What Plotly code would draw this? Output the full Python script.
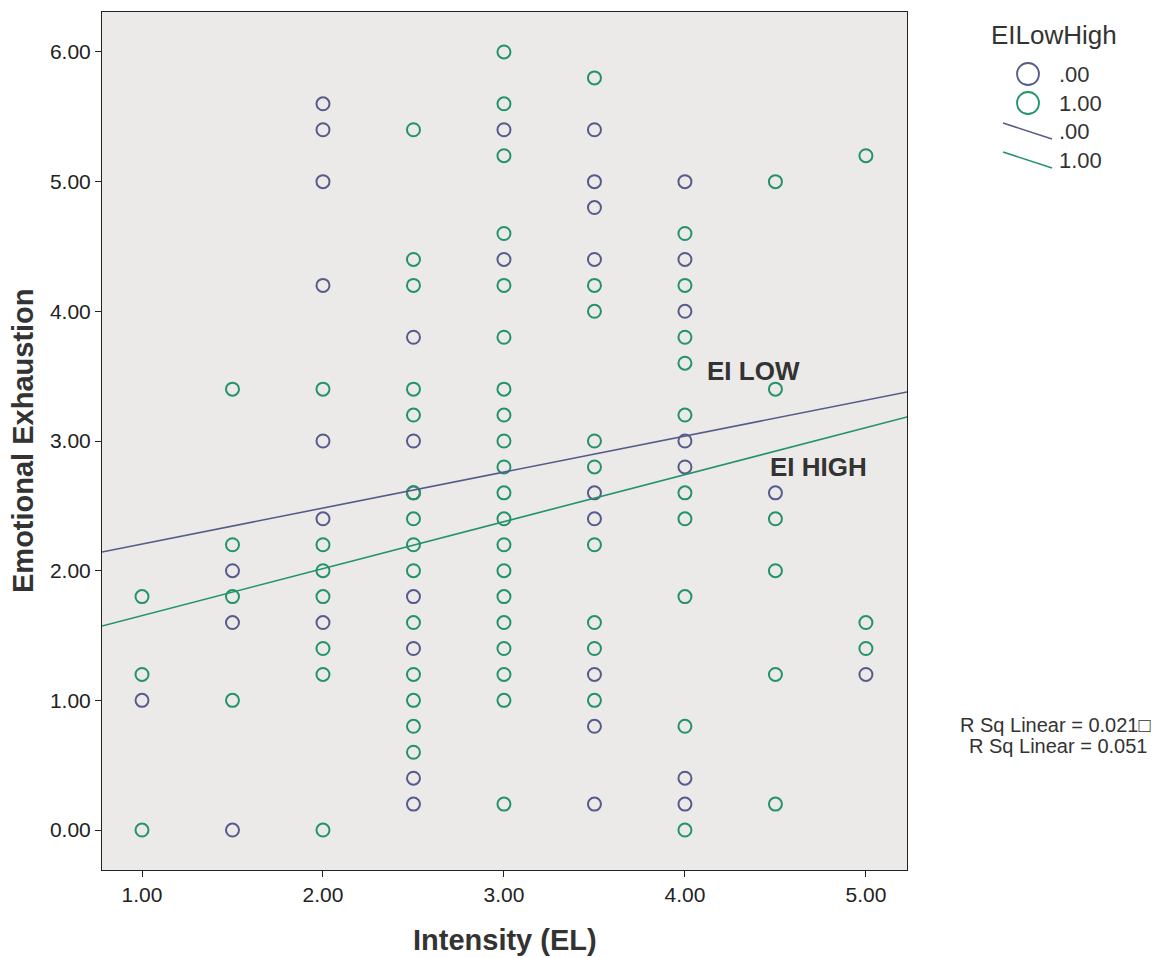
import plotly.graph_objects as go

# ---------------- data ----------------
columns = [1.0, 1.5, 2.0, 2.5, 3.0, 3.5, 4.0, 4.5, 5.0]

low_values = [
    [1.0],
    [2.0, 1.6, 0.0],
    [5.6, 5.4, 5.0, 4.2, 3.0, 2.4, 1.6],
    [3.8, 3.0, 2.6, 1.8, 1.4, 0.4, 0.2],
    [5.4, 4.4],
    [5.4, 5.0, 4.8, 4.4, 2.6, 2.4, 1.2, 0.8, 0.2],
    [5.0, 4.4, 4.0, 3.0, 2.8, 0.4, 0.2],
    [2.6],
    [1.2],
]
high_values = [
    [1.8, 1.2, 0.0],
    [3.4, 2.2, 1.8, 1.0],
    [3.4, 2.2, 2.0, 1.8, 1.4, 1.2, 0.0],
    [5.4, 4.4, 4.2, 3.4, 3.2, 2.6, 2.4, 2.2, 2.0, 1.6, 1.2, 1.0, 0.8, 0.6],
    [6.0, 5.6, 5.2, 4.6, 4.2, 3.8, 3.4, 3.2, 3.0, 2.8, 2.6, 2.4, 2.2, 2.0,
     1.8, 1.6, 1.4, 1.2, 1.0, 0.2],
    [5.8, 4.2, 4.0, 3.0, 2.8, 2.2, 1.6, 1.4, 1.0],
    [4.6, 4.2, 3.8, 3.6, 3.2, 2.6, 2.4, 1.8, 0.8, 0.0],
    [5.0, 3.4, 2.4, 2.0, 1.2, 0.2],
    [5.2, 1.6, 1.4],
]

# fit lines (intercept, slope)
low_fit = (1.928, 0.2775)
high_fit = (1.291, 0.3624)

x_range = [0.779, 5.227]
y_range = [-0.308, 6.308]
x_ticks = [1, 2, 3, 4, 5]
y_ticks = [0, 1, 2, 3, 4, 5, 6]

legend_title = "EILowHigh"
group_labels = [".00", "1.00"]
rsq_labels = ["R Sq Linear = 0.021\u25a1", "R Sq Linear = 0.051"]

# ---------------- styling ----------------
BLUE = "#575B8B"
GREEN = "#23936A"
FONT = "Liberation Sans, Arial, sans-serif"


def flatten(values):
    xs, ys = [], []
    for cx, vals in zip(columns, values):
        for v in vals:
            xs.append(cx)
            ys.append(v)
    return xs, ys


low_x, low_y = flatten(low_values)
high_x, high_y = flatten(high_values)

fig = go.Figure()

for xs, ys, col in [(low_x, low_y, BLUE), (high_x, high_y, GREEN)]:
    fig.add_trace(go.Scatter(
        x=xs, y=ys, mode="markers",
        marker=dict(symbol="circle-open", size=13, color=col,
                    line=dict(width=2, color=col)),
        showlegend=False, hoverinfo="x+y"))

for (b0, b1), col in [(low_fit, BLUE), (high_fit, GREEN)]:
    fx = [x_range[0], x_range[1]]
    fy = [b0 + b1 * v for v in fx]
    fig.add_trace(go.Scatter(x=fx, y=fy, mode="lines",
                             line=dict(color=col, width=1.6),
                             showlegend=False, hoverinfo="skip"))

# plot area in pixels: left 102, right 907, top 12, bottom 870
L, R, T, B = 102, 907, 12, 870
W, H = 1170, 958


def px(xp):
    return (xp - L) / (R - L)


def py(yp):
    return (B - yp) / (B - T)


annotations = [
    dict(text="EI LOW", x=4.11, y=3.54, xref="x", yref="y", xanchor="left",
         yanchor="middle", showarrow=False,
         font=dict(family=FONT, size=26, color="#333333", weight="bold")),
    dict(text="EI HIGH", x=4.46, y=2.80, xref="x", yref="y", xanchor="left",
         yanchor="middle", showarrow=False,
         font=dict(family=FONT, size=26, color="#333333", weight="bold")),
    dict(text="Intensity (EL)", x=px(504.5), y=py(940), xref="paper",
         yref="paper", xanchor="center", yanchor="middle", showarrow=False,
         font=dict(family=FONT, size=29, color="#333333", weight="bold")),
    dict(text="Emotional Exhaustion", x=px(23), y=py(441), xref="paper",
         yref="paper", xanchor="center", yanchor="middle", textangle=-90,
         showarrow=False,
         font=dict(family=FONT, size=29, color="#333333", weight="bold")),
    dict(text=legend_title, x=px(1054), y=py(35), xref="paper", yref="paper",
         xanchor="center", yanchor="middle", showarrow=False,
         font=dict(family=FONT, size=26, color="#333333")),
]
for lbl, yp in zip(group_labels + group_labels, [74, 103, 131, 160]):
    annotations.append(dict(text=lbl, x=px(1057), y=py(yp), xref="paper",
                            yref="paper", xanchor="left", yanchor="middle",
                            showarrow=False,
                            font=dict(family=FONT, size=22, color="#333333")))
for lbl, yp, xc in zip(rsq_labels, [725, 746], [1055, 1058]):
    annotations.append(dict(text=lbl, x=px(xc), y=py(yp), xref="paper",
                            yref="paper", xanchor="center", yanchor="middle",
                            showarrow=False,
                            font=dict(family=FONT, size=20, color="#333333")))

shapes = []
for col, yp in [(BLUE, 74), (GREEN, 103)]:
    shapes.append(dict(type="circle", xref="paper", yref="paper",
                       xsizemode="pixel", ysizemode="pixel",
                       xanchor=px(1028), yanchor=py(yp),
                       x0=-11, x1=11, y0=-11, y1=11,
                       line=dict(color=col, width=1.8)))
for col, y0p in [(BLUE, 123), (GREEN, 152)]:
    shapes.append(dict(type="line", xref="paper", yref="paper",
                       x0=px(1003), x1=px(1052), y0=py(y0p), y1=py(y0p + 16),
                       line=dict(color=col, width=1.6)))

axis_common = dict(
    showgrid=False, zeroline=False, showline=True, mirror=True,
    linecolor="#222222", linewidth=1, ticks="outside", ticklen=6,
    tickcolor="#222222", tickformat=".2f",
    tickfont=dict(family=FONT, size=21, color="#222222"),
)

fig.update_layout(
    width=W, height=H,
    margin=dict(l=L, r=W - R, t=T, b=H - B),
    paper_bgcolor="white", plot_bgcolor="#EBEAE8",
    xaxis=dict(range=x_range, tickvals=x_ticks, **axis_common),
    yaxis=dict(range=y_range, tickvals=y_ticks, **axis_common),
    annotations=annotations, shapes=shapes, showlegend=False,
)

fig.write_html("out.html")
